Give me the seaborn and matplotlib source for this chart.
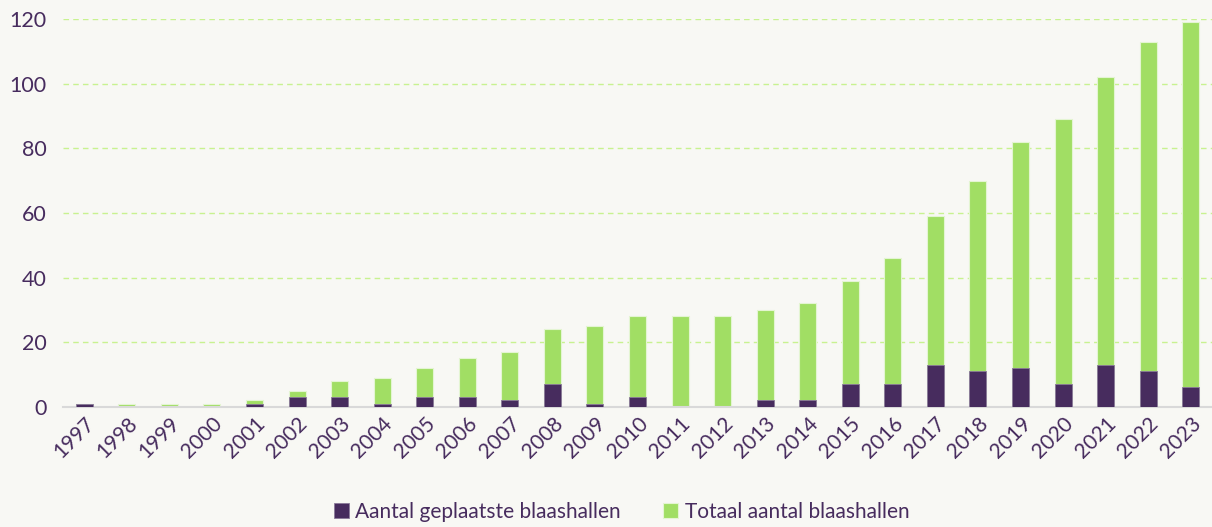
import pandas as pd
import matplotlib.pyplot as plt
import seaborn as sns

# data
years = [str(y) for y in range(1997, 2024)]
geplaatst = [1, 0, 0, 0, 1, 3, 3, 1, 3, 3, 2, 7, 1, 3, 0, 0, 2, 2, 7, 7, 13, 11, 12, 7, 13, 11, 6]
totaal = [1, 1, 1, 1, 2, 5, 8, 9, 12, 15, 17, 24, 25, 28, 28, 28, 30, 32, 39, 46, 59, 70, 82, 89, 102, 113, 119]

df = pd.DataFrame({'Jaar': years, 'Geplaatst': geplaatst, 'Totaal': totaal})

purple = '#472c5e'
green = '#a1de64'
bg = '#f8f8f4'

sns.set_style('white')
plt.rcParams['font.family'] = ['Lato', 'DejaVu Sans']

fig = plt.figure(figsize=(12.12, 5.27), dpi=100, facecolor=bg)
ax = fig.add_axes([0.052, 0.228, 0.948, 0.736])
ax.set_facecolor(bg)

sns.barplot(data=df, x='Jaar', y='Totaal', color=green, width=0.4, saturation=1,
            edgecolor='#e4f5d2', linewidth=0.8,
            label='Totaal aantal blaashallen', ax=ax, zorder=2)
sns.barplot(data=df, x='Jaar', y='Geplaatst', color=purple, width=0.4, saturation=1,
            edgecolor='#8a7a99', linewidth=0.6,
            label='Aantal geplaatste blaashallen', ax=ax, zorder=3)

ax.set_ylim(0, 120)
ax.set_xlim(-0.5, 26.5)
ax.set_yticks(range(0, 121, 20))
ax.yaxis.grid(True, color='#c8f290', linestyle=(0, (4, 3)), linewidth=1)
ax.set_axisbelow(True)
ax.set_xlabel('')
ax.set_ylabel('')
for s in ['top', 'right', 'left']:
    ax.spines[s].set_visible(False)
ax.spines['bottom'].set_color('#d9d9d9')
ax.spines['bottom'].set_linewidth(1.5)
ax.tick_params(axis='both', length=0, labelcolor=purple, labelsize=15.5)
ax.tick_params(axis='x', labelsize=15, pad=5)
ax.tick_params(axis='y', pad=12)
plt.setp(ax.get_xticklabels(), rotation=45, ha='right', rotation_mode='anchor')

h, l = ax.get_legend_handles_labels()
ax.legend(h[::-1], l[::-1], loc='lower center', bbox_to_anchor=(0.486, -0.345),
          ncol=2, frameon=False, fontsize=15, labelcolor=purple,
          handlelength=0.75, handleheight=0.75, handletextpad=0.3, columnspacing=2.0)

fig.savefig('out.png', dpi=100, facecolor=bg)
